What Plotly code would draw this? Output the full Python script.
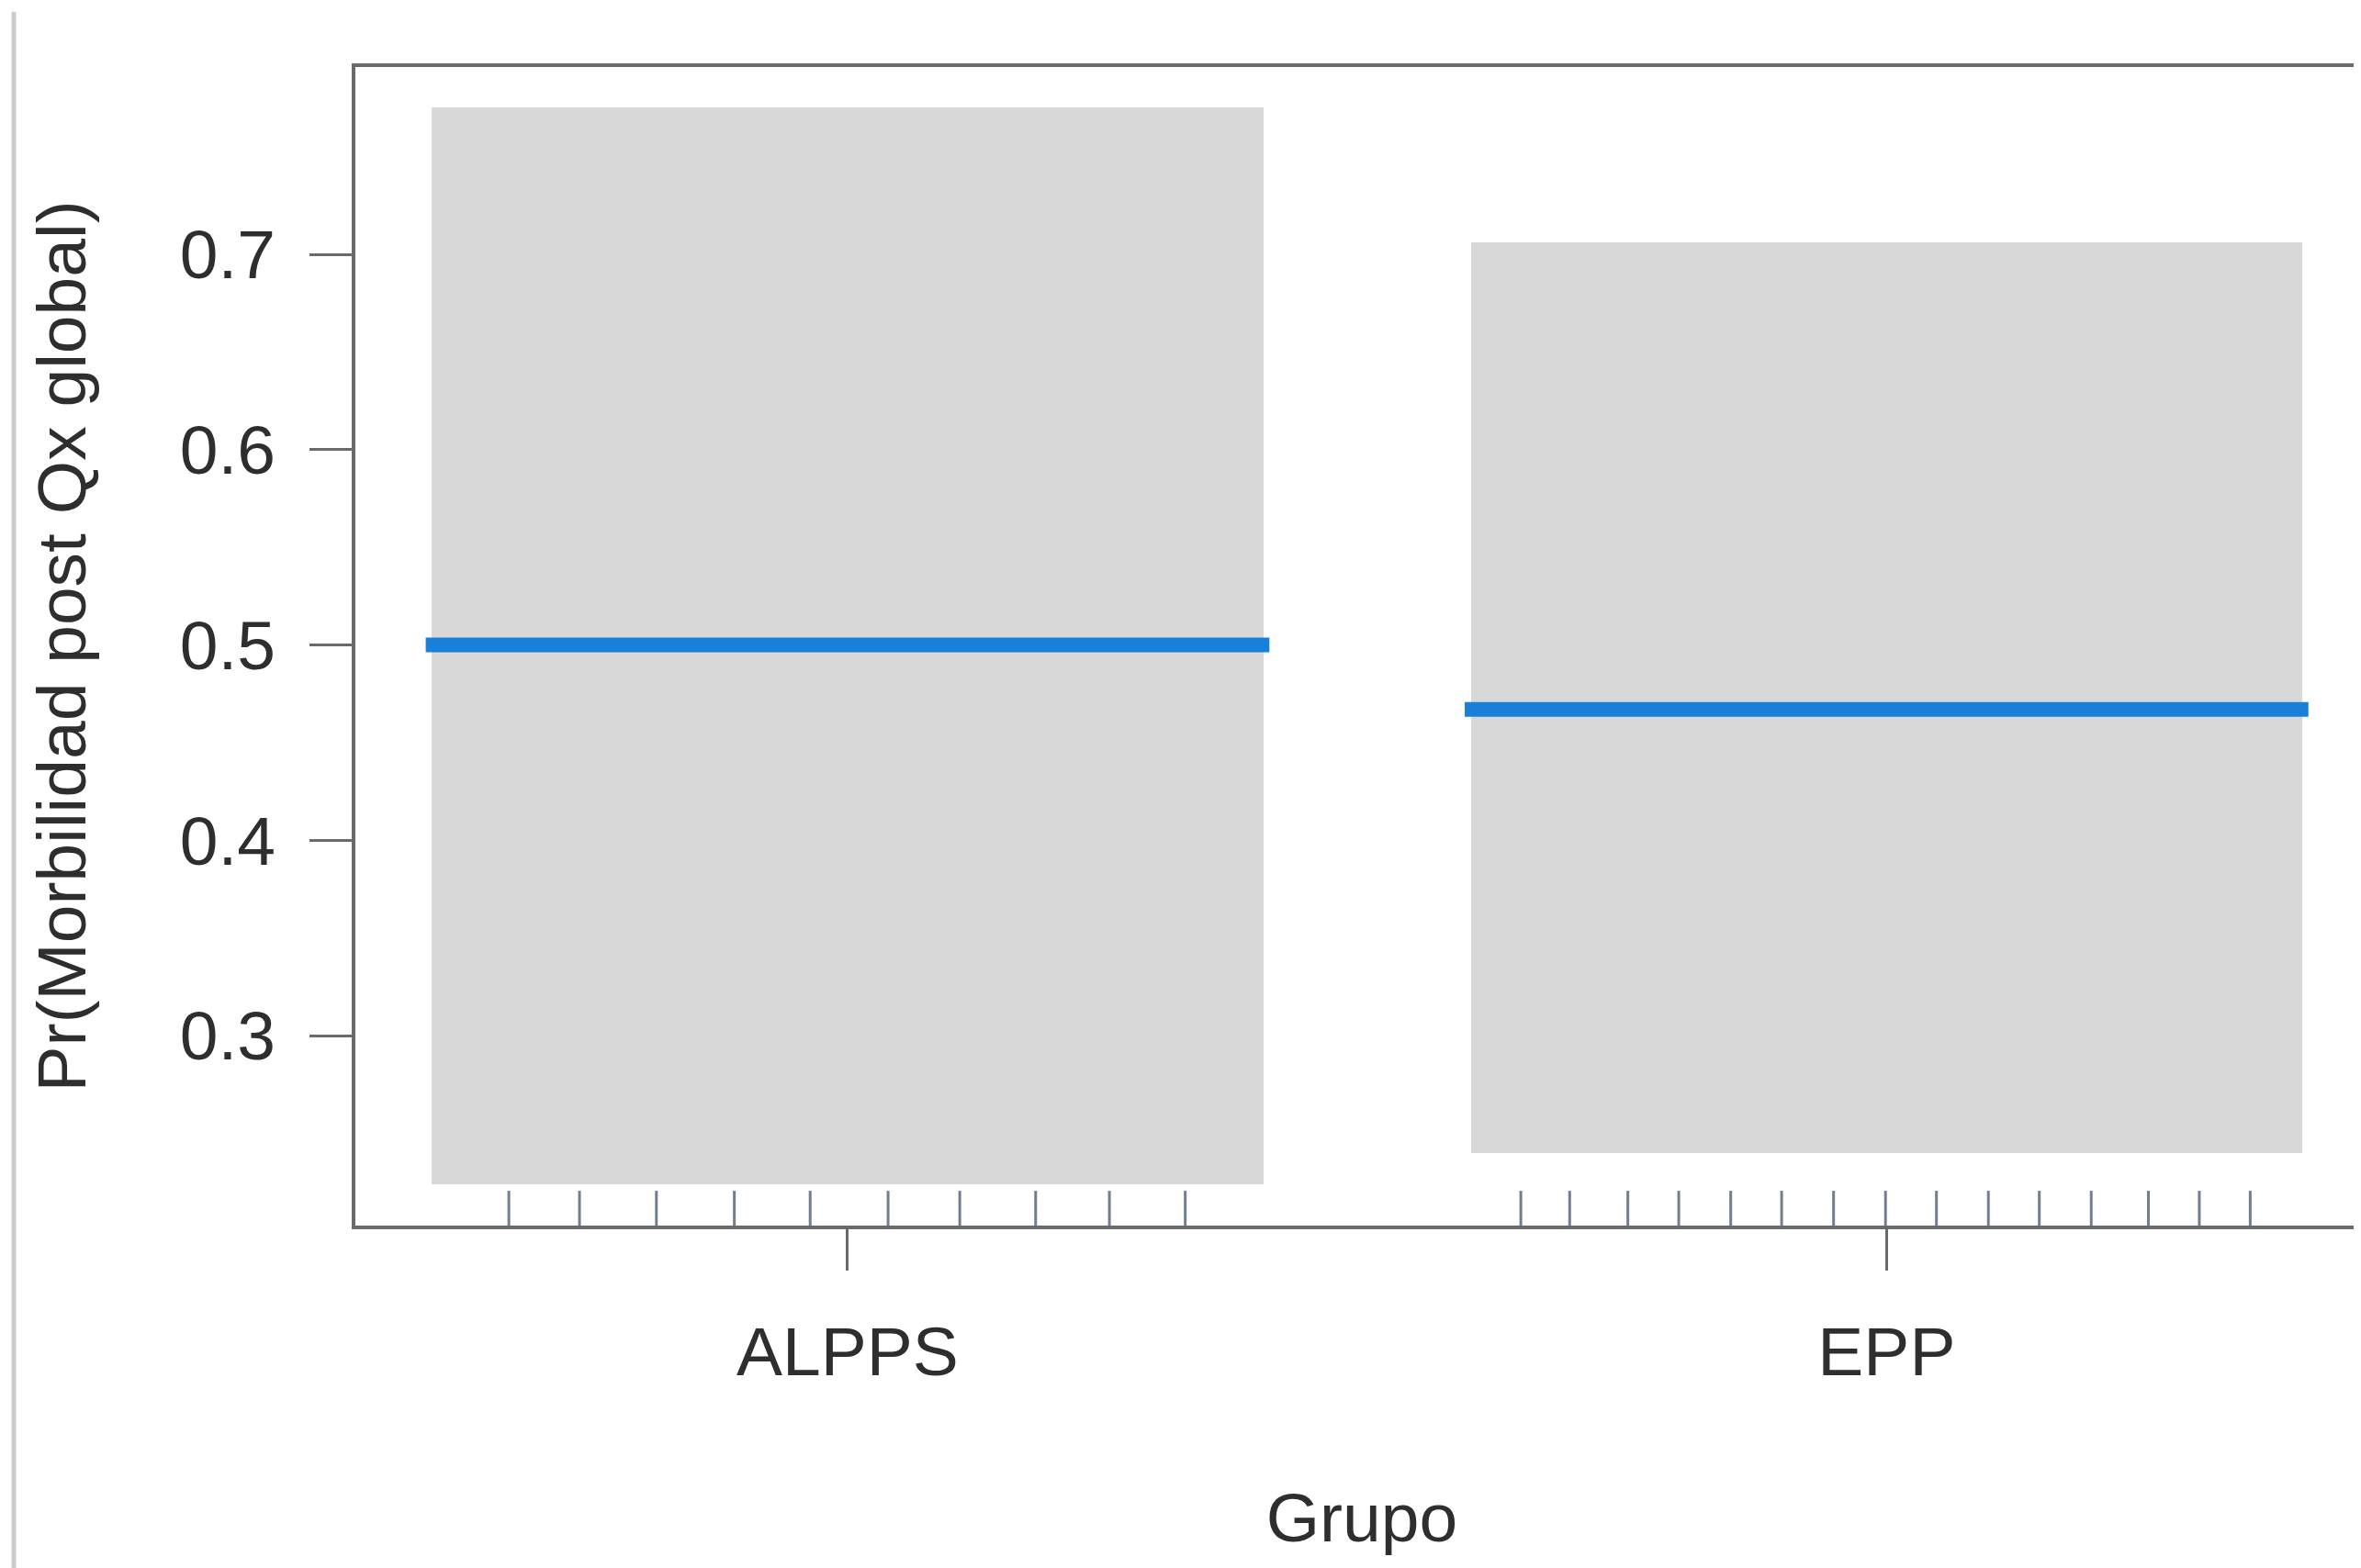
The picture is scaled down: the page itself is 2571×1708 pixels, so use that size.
import plotly.graph_objects as go

# ---- data ----
groups = ["ALPPS", "EPP"]
fit = [0.500, 0.467]
lower = [0.224, 0.240]
upper = [0.775, 0.706]
# rug offsets (category units) around each group position
rug_alpps = [-0.326, -0.258, -0.184, -0.109, -0.036, 0.039, 0.108, 0.181, 0.252, 0.325]
rug_epp = [-0.352, -0.305, -0.249, -0.200, -0.150, -0.101, -0.051, -0.001, 0.048,
           0.098, 0.147, 0.197, 0.252, 0.301, 0.350]
y_ticks = [0.3, 0.4, 0.5, 0.6, 0.7]
y_ticklabels = ["0.3", "0.4", "0.5", "0.6", "0.7"]
x_title = "Grupo"
y_title = "Pr(Morbilidad post Qx global)"

# ---- style ----
band_w = 0.8
line_half = 0.406
band_color = "#d8d8d8"
line_color = "#1a7fd8"
axis_color = "#6a6a6a"
text_color = "#2e2e2e"
font_family = "Liberation Sans, Arial, sans-serif"
fs = 75

pos = list(range(len(groups)))
fig = go.Figure()

fig.add_trace(go.Bar(
    x=pos, y=[u - l for u, l in zip(upper, lower)], base=lower,
    width=band_w, marker=dict(color=band_color, line=dict(width=0)),
    showlegend=False, hoverinfo="skip"))

for i, f in zip(pos, fit):
    fig.add_trace(go.Scatter(
        x=[i - line_half, i + line_half], y=[f, f], mode="lines",
        line=dict(color=line_color, width=16), showlegend=False))

shapes = []
for i, offs in zip(pos, [rug_alpps, rug_epp]):
    for o in offs:
        shapes.append(dict(type="line", xref="x", yref="y domain",
                           x0=i + o, x1=i + o, y0=0, y1=0.03,
                           line=dict(color="#6f7f90", width=3)))
# left border of the original image frame
shapes.append(dict(type="line", xref="paper", yref="paper",
                   x0=-0.1697, x1=-0.1697, y0=-0.32, y1=1.0475,
                   line=dict(color="#cccccc", width=5)))

fig.update_layout(
    width=2571, height=1708,
    margin=dict(l=379, r=0, t=65, b=381),
    paper_bgcolor="white", plot_bgcolor="white",
    font=dict(family=font_family, size=fs, color=text_color),
    shapes=shapes,
    bargap=0,
)
fig.update_xaxes(
    range=[-0.4737, 1.4637], tickmode="array", tickvals=pos, ticktext=groups,
    ticks="outside", ticklen=45, tickwidth=3, tickcolor=axis_color,
    showline=True, linecolor=axis_color, linewidth=4, mirror=True,
    showgrid=False, zeroline=False, ticklabelstandoff=24,
    tickfont=dict(size=fs, color=text_color),
    title=dict(text=x_title, standoff=114, font=dict(size=fs, color=text_color)),
)
fig.update_yaxes(
    range=[0.2027, 0.7959], tickmode="array", tickvals=y_ticks, ticktext=y_ticklabels,
    ticks="outside", ticklen=46, tickwidth=3, tickcolor=axis_color,
    showline=True, linecolor=axis_color, linewidth=4, mirror=False,
    showgrid=False, zeroline=False, ticklabelstandoff=22,
    tickfont=dict(size=fs, color=text_color),
    title=dict(text=y_title, standoff=78, font=dict(size=fs, color=text_color)),
)

fig.write_html("out.html")
